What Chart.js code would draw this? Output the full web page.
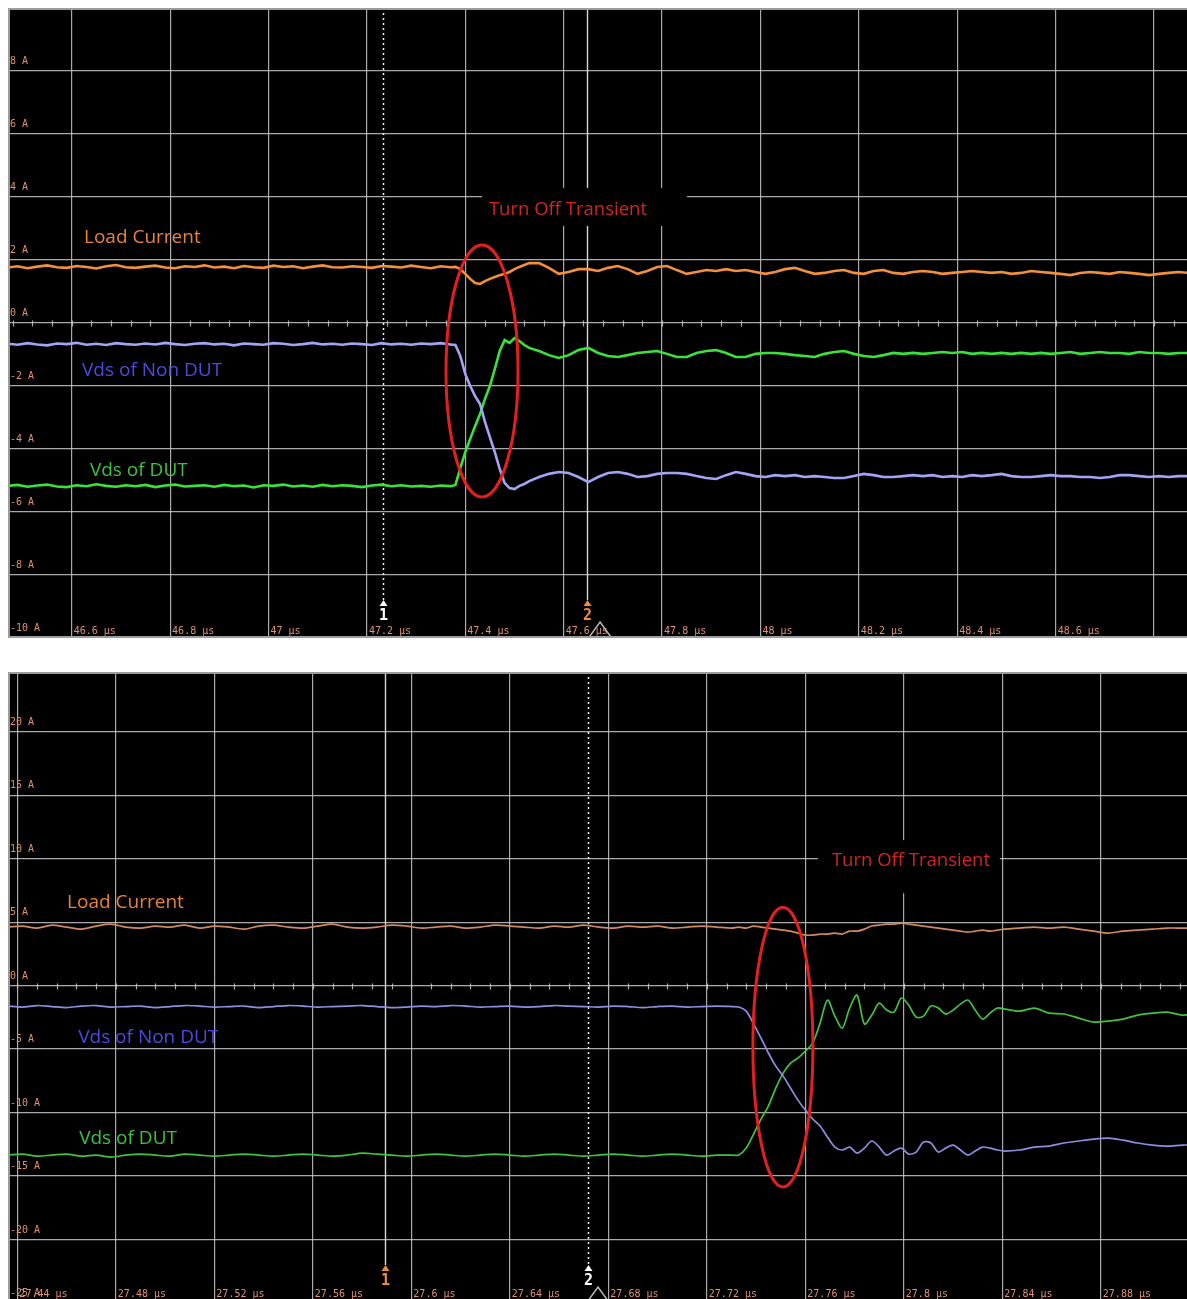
<!DOCTYPE html>
<html>
<head>
<meta charset="utf-8">
<title>Turn Off Transient</title>
<script src="https://cdn.jsdelivr.net/npm/chart.js@4.4.1/dist/chart.umd.min.js"></script>
<style>
    html, body { margin: 0; padding: 0; background: #fff; overflow: hidden; }
    .scope { position: absolute; left: 8px; width: 1179px; background: #000; }
    #topScope { top: 8px; height: 630px; }
    #bottomScope { top: 672px; height: 631px; }
</style>
</head>
<body>
<div class="scope" id="topScope"><canvas id="topChart" width="1179" height="630"></canvas></div>
<div class="scope" id="bottomScope"><canvas id="bottomChart" width="1179" height="631"></canvas></div>
<script>
// Two scope captures of the turn-off transient (time in us, values in A)

// ---- top capture ----
const topTime = [
    46.47, 46.49, 46.51, 46.53, 46.55, 46.57, 46.59, 46.61, 46.63, 46.65,
    46.67, 46.69, 46.71, 46.73, 46.75, 46.77, 46.79, 46.81, 46.83, 46.85,
    46.87, 46.89, 46.91, 46.93, 46.95, 46.97, 46.99, 47.01, 47.03, 47.05,
    47.07, 47.09, 47.11, 47.13, 47.15, 47.17, 47.19, 47.21, 47.23, 47.25,
    47.27, 47.29, 47.31, 47.33, 47.35, 47.37,
    47.38, 47.39, 47.40, 47.41, 47.42, 47.43, 47.44, 47.45, 47.46, 47.47,
    47.48, 47.49, 47.50, 47.51, 47.52, 47.53,
    47.55, 47.57, 47.59, 47.61, 47.63, 47.65, 47.67, 47.69, 47.71, 47.73,
    47.75, 47.77, 47.79, 47.81, 47.83, 47.85, 47.87, 47.89, 47.91, 47.93,
    47.95, 47.97, 47.99, 48.01, 48.03, 48.05, 48.07, 48.09, 48.11, 48.13,
    48.15, 48.17, 48.19, 48.21, 48.23, 48.25, 48.27, 48.29, 48.31, 48.33,
    48.35, 48.37, 48.39, 48.41, 48.43, 48.45, 48.47, 48.49, 48.51, 48.53,
    48.55, 48.57, 48.59, 48.61, 48.63, 48.65, 48.67, 48.69, 48.71, 48.73,
    48.75, 48.77, 48.79, 48.81, 48.83, 48.85, 48.87
];
const topLoadCurrent = [
    1.76, 1.80, 1.74, 1.79, 1.83, 1.77, 1.75, 1.81, 1.78, 1.73,
    1.80, 1.84, 1.77, 1.75, 1.79, 1.82, 1.76, 1.74, 1.80, 1.78,
    1.83, 1.76, 1.79, 1.74, 1.81, 1.77, 1.75, 1.82, 1.78, 1.80,
    1.74, 1.79, 1.83, 1.77, 1.76, 1.80, 1.78, 1.75, 1.81, 1.79,
    1.76, 1.82, 1.78, 1.74, 1.80, 1.77,
    1.78, 1.71, 1.56, 1.40, 1.27, 1.24, 1.33, 1.40, 1.46, 1.52,
    1.56, 1.62, 1.71, 1.78, 1.84, 1.90,
    1.90, 1.75, 1.56, 1.62, 1.71, 1.71, 1.65, 1.75, 1.81, 1.71,
    1.56, 1.65, 1.78, 1.81, 1.68, 1.56, 1.62, 1.68, 1.65, 1.71,
    1.65, 1.68, 1.62, 1.56, 1.62, 1.71, 1.75, 1.65, 1.56, 1.59,
    1.65, 1.68, 1.59, 1.56, 1.65, 1.68, 1.59, 1.56, 1.62, 1.65,
    1.62, 1.56, 1.59, 1.62, 1.65, 1.62, 1.59, 1.62, 1.56, 1.59,
    1.65, 1.62, 1.59, 1.56, 1.52, 1.59, 1.62, 1.59, 1.56, 1.62,
    1.59, 1.56, 1.52, 1.56, 1.59, 1.62, 1.59
];
const topVdsNonDut = [
    -0.66, -0.69, -0.64, -0.68, -0.71, -0.65, -0.67, -0.63, -0.69, -0.66,
    -0.70, -0.64, -0.67, -0.69, -0.65, -0.68, -0.63, -0.67, -0.70, -0.66,
    -0.64, -0.68, -0.66, -0.71, -0.65, -0.67, -0.69, -0.64, -0.66, -0.70,
    -0.67, -0.63, -0.68, -0.66, -0.69, -0.65, -0.67, -0.70, -0.64, -0.68,
    -0.66, -0.69, -0.65, -0.67, -0.64, -0.68,
    -0.70, -1.05, -1.62, -2.00, -2.32, -2.57, -3.14, -3.62, -4.10, -4.63,
    -5.08, -5.24, -5.27, -5.17, -5.11, -5.02,
    -4.89, -4.79, -4.73, -4.76, -4.89, -5.05, -4.89, -4.76, -4.73, -4.79,
    -4.89, -4.86, -4.79, -4.76, -4.76, -4.79, -4.86, -4.92, -4.95, -4.83,
    -4.73, -4.79, -4.86, -4.89, -4.83, -4.86, -4.83, -4.89, -4.86, -4.89,
    -4.92, -4.92, -4.86, -4.79, -4.83, -4.89, -4.89, -4.86, -4.83, -4.86,
    -4.83, -4.89, -4.86, -4.89, -4.83, -4.86, -4.83, -4.79, -4.86, -4.89,
    -4.89, -4.86, -4.83, -4.86, -4.86, -4.89, -4.89, -4.92, -4.89, -4.83,
    -4.83, -4.86, -4.89, -4.86, -4.89, -4.86, -4.86
];
const topVdsDut = [
    -5.17, -5.14, -5.20, -5.16, -5.13, -5.19, -5.21, -5.15, -5.18, -5.12,
    -5.17, -5.20, -5.15, -5.18, -5.14, -5.21, -5.16, -5.13, -5.19, -5.17,
    -5.15, -5.20, -5.14, -5.18, -5.16, -5.22, -5.15, -5.17, -5.13, -5.19,
    -5.16, -5.20, -5.14, -5.18, -5.15, -5.17, -5.21, -5.16, -5.13, -5.18,
    -5.15, -5.19, -5.17, -5.20, -5.16, -5.18,
    -5.14, -4.60, -4.10, -3.68, -3.27, -2.89, -2.41, -2.00, -1.46, -0.89,
    -0.54, -0.63, -0.48, -0.57, -0.70, -0.79,
    -0.89, -1.02, -1.11, -1.02, -0.86, -0.79, -0.95, -1.05, -1.08, -1.02,
    -0.95, -0.92, -0.89, -0.98, -1.08, -1.08, -0.95, -0.89, -0.86, -0.95,
    -1.08, -1.08, -0.98, -0.95, -0.95, -0.98, -1.02, -1.05, -1.08, -0.98,
    -0.92, -0.89, -0.98, -1.05, -1.08, -1.02, -0.95, -0.98, -0.95, -0.98,
    -0.95, -0.92, -0.95, -0.92, -0.98, -0.95, -0.98, -0.95, -0.98, -0.95,
    -0.98, -0.95, -0.98, -0.95, -0.92, -0.98, -0.95, -0.92, -0.95, -0.95,
    -0.98, -0.92, -0.95, -0.95, -0.98, -0.95, -0.95
];
const topXTicks = [46.6, 46.8, 47.0, 47.2, 47.4, 47.6, 47.8, 48.0, 48.2, 48.4, 48.6, 48.8];
const topXTickLabels = ['46.6 µs', '46.8 µs', '47 µs', '47.2 µs', '47.4 µs', '47.6 µs',
    '47.8 µs', '48 µs', '48.2 µs', '48.4 µs', '48.6 µs', ''];
const topYTicks = [8, 6, 4, 2, 0, -2, -4, -6, -8, -10];
const topYTickLabels = ['8 A', '6 A', '4 A', '2 A', '0 A', '-2 A', '-4 A', '-6 A', '-8 A', '-10 A'];

// ---- bottom capture ----
const bottomTime = [
    27.436, 27.442, 27.448, 27.454, 27.460, 27.466, 27.472, 27.478, 27.484, 27.490,
    27.496, 27.502, 27.508, 27.514, 27.520, 27.526, 27.532, 27.538, 27.544, 27.550,
    27.556, 27.562, 27.568, 27.574, 27.580, 27.586, 27.592, 27.598, 27.604, 27.610,
    27.616, 27.622, 27.628, 27.634, 27.640, 27.646, 27.652, 27.658, 27.664, 27.670,
    27.676, 27.682, 27.688, 27.694, 27.700, 27.706, 27.712, 27.718, 27.724, 27.730,
    27.733, 27.736, 27.739, 27.742, 27.745, 27.748, 27.751, 27.754, 27.757, 27.760,
    27.763, 27.766, 27.769, 27.772, 27.775, 27.778, 27.781, 27.784, 27.787, 27.790,
    27.793, 27.796, 27.799, 27.802, 27.805, 27.808, 27.811, 27.814, 27.817, 27.820,
    27.823, 27.826, 27.829, 27.832, 27.835, 27.838, 27.841,
    27.847, 27.853, 27.859, 27.865, 27.871, 27.877, 27.883, 27.889, 27.895, 27.901,
    27.907, 27.913, 27.919
];
const bottomLoadCurrent = [
    4.61, 4.69, 4.53, 4.76, 4.61, 4.45, 4.69, 4.84, 4.61, 4.53,
    4.69, 4.61, 4.76, 4.53, 4.69, 4.61, 4.45, 4.69, 4.76, 4.61,
    4.53, 4.69, 4.84, 4.61, 4.53, 4.61, 4.76, 4.69, 4.53, 4.61,
    4.69, 4.53, 4.61, 4.76, 4.69, 4.61, 4.53, 4.69, 4.61, 4.76,
    4.61, 4.53, 4.69, 4.61, 4.69, 4.53, 4.61, 4.69, 4.61, 4.53,
    4.61, 4.53, 4.69, 4.61, 4.53, 4.45, 4.37, 4.29, 4.13, 3.98,
    3.98, 4.06, 4.06, 4.13, 4.06, 4.29, 4.29, 4.45, 4.69, 4.76,
    4.84, 4.84, 4.92, 4.84, 4.76, 4.69, 4.61, 4.53, 4.45, 4.37,
    4.29, 4.21, 4.29, 4.37, 4.29, 4.37, 4.45,
    4.53, 4.61, 4.53, 4.61, 4.45, 4.29, 4.13, 4.29, 4.37, 4.45,
    4.53, 4.53, 4.53
];
const bottomVdsNonDut = [
    -1.61, -1.69, -1.57, -1.65, -1.73, -1.61, -1.57, -1.69, -1.65, -1.61,
    -1.73, -1.65, -1.57, -1.61, -1.69, -1.65, -1.61, -1.73, -1.65, -1.57,
    -1.61, -1.69, -1.65, -1.61, -1.57, -1.65, -1.73, -1.69, -1.61, -1.65,
    -1.57, -1.61, -1.69, -1.65, -1.61, -1.69, -1.65, -1.57, -1.61, -1.65,
    -1.69, -1.61, -1.65, -1.73, -1.65, -1.61, -1.69, -1.65, -1.61, -1.65,
    -1.69, -2.01, -3.03, -4.13, -5.31, -6.34, -7.13, -8.07, -9.02, -9.80,
    -10.51, -11.06, -11.93, -12.72, -12.95, -12.72, -13.19, -12.80, -12.24, -12.72,
    -13.35, -13.03, -12.80, -13.27, -13.11, -12.32, -12.40, -13.11, -12.80, -12.56,
    -12.95, -13.35, -13.03, -12.72, -12.80, -12.95, -13.03,
    -12.95, -12.72, -12.64, -12.40, -12.24, -12.09, -12.01, -12.17, -12.40, -12.56,
    -12.64, -12.56, -12.56
];
const bottomVdsDut = [
    -13.35, -13.27, -13.43, -13.35, -13.27, -13.43, -13.35, -13.51, -13.35, -13.27,
    -13.35, -13.43, -13.27, -13.35, -13.43, -13.35, -13.27, -13.35, -13.43, -13.35,
    -13.27, -13.35, -13.43, -13.35, -13.20, -13.27, -13.35, -13.43, -13.35, -13.27,
    -13.35, -13.43, -13.35, -13.27, -13.35, -13.43, -13.35, -13.27, -13.35, -13.43,
    -13.35, -13.27, -13.35, -13.43, -13.35, -13.27, -13.35, -13.43, -13.35, -13.35,
    -13.35, -12.80, -11.69, -10.51, -9.49, -8.07, -6.89, -6.10, -5.71, -5.16,
    -4.53, -2.95, -1.14, -2.40, -3.35, -1.77, -0.75, -3.03, -2.32, -1.38,
    -1.93, -2.09, -0.98, -1.54, -2.48, -2.40, -1.61, -1.77, -2.24, -1.93,
    -1.46, -1.14, -1.93, -2.64, -2.17, -1.77, -1.85,
    -2.01, -1.77, -2.17, -2.24, -2.56, -2.87, -2.80, -2.64, -2.32, -2.17,
    -2.09, -2.32, -2.24
];
const bottomXTicks = [27.44, 27.48, 27.52, 27.56, 27.60, 27.64, 27.68, 27.72, 27.76, 27.80, 27.84, 27.88];
const bottomXTickLabels = ['27.44 µs', '27.48 µs', '27.52 µs', '27.56 µs', '27.6 µs', '27.64 µs',
    '27.68 µs', '27.72 µs', '27.76 µs', '27.8 µs', '27.84 µs', '27.88 µs'];
const bottomYTicks = [20, 15, 10, 5, 0, -5, -10, -15, -20, -25];
const bottomYTickLabels = ['20 A', '15 A', '10 A', '5 A', '0 A', '-5 A', '-10 A', '-15 A', '-20 A', '-25 A'];

const seriesNames = ['Load Current', 'Vds of Non DUT', 'Vds of DUT'];

const GRID = 'rgba(200, 200, 200, 0.85)';
const TICK_TEXT = '#e3906c';
const SCOPE_FONT = '10px "DejaVu Sans Mono"';
const NOTE_FONT = '19px "Open Sans"';
const CALLOUT_FONT = '18.5px "Open Sans"';
const MARK_FONT = 'bold 15px "DejaVu Sans Mono"';

const panels = [
    {
        canvas: 'topChart',
        time: topTime,
        series: [topLoadCurrent, topVdsNonDut, topVdsDut],
        colors: ['#f2903e', '#a4a4f4', '#3ae23a'],
        lineWidth: 2.6,
        tension: 0,
        xRange: [46.4705, 48.867],
        yRange: [-10, 10],
        xTicks: topXTicks, xLabels: topXTickLabels,
        yTicks: topYTicks, yLabels: topYTickLabels,
        labelInset: 4,
        cursors: [
            { t: 47.233, n: '1', dotted: true, mark: '#ffffff' },
            { t: 47.647, n: '2', dotted: false, mark: '#f08a3c' }
        ],
        trigger: 47.674,
        notes: [
            { text: 'Load Current', t: 46.625, v: 2.70, color: '#e8823c' },
            { text: 'Vds of Non DUT', t: 46.621, v: -1.52, color: '#4b4be0' },
            { text: 'Vds of DUT', t: 46.637, v: -4.67, color: '#3cc23c' }
        ],
        callout: { text: 'Turn Off Transient', t: 47.448, v: 3.59, box: [47.434, 47.851, 4.29, 3.08] },
        ring: { t: 47.434, v: -1.52, dt: 0.0732, dv: 4.0 }
    },
    {
        canvas: 'bottomChart',
        time: bottomTime,
        series: [bottomLoadCurrent, bottomVdsNonDut, bottomVdsDut],
        colors: ['#d08a62', '#8e8ee0', '#42c242'],
        lineWidth: 1.7,
        tension: 0.3,
        xRange: [27.4362, 27.915],
        yRange: [-25, 24.7],
        xTicks: bottomXTicks, xLabels: bottomXTickLabels,
        yTicks: bottomYTicks, yLabels: bottomYTickLabels,
        labelInset: 6,
        cursors: [
            { t: 27.5891, n: '1', dotted: false, mark: '#f08a3c' },
            { t: 27.6718, n: '2', dotted: true, mark: '#ffffff' }
        ],
        trigger: 27.6758,
        notes: [
            { text: 'Load Current', t: 27.4602, v: 6.57, color: '#e8823c' },
            { text: 'Vds of Non DUT', t: 27.4647, v: -4.06, color: '#4b4be0' },
            { text: 'Vds of DUT', t: 27.4651, v: -12.09, color: '#3cc23c' }
        ],
        callout: { text: 'Turn Off Transient', t: 27.7708, v: 9.80, box: [27.7651, 27.8390, 11.46, 7.28] },
        ring: { t: 27.7509, v: -4.84, dt: 0.01218, dv: 11.02 }
    }
];

function scopeOverlay(p) {
    return {
        id: 'scopeOverlay',
        beforeDatasetsDraw(chart) {
            const { ctx, chartArea: a, scales: { x, y } } = chart;
            ctx.save();

            // minor ticks along the 0 A axis
            const minor = (p.xTicks[1] - p.xTicks[0]) / 5;
            const y0 = Math.round(y.getPixelForValue(0)) + 0.5;
            ctx.strokeStyle = GRID;
            ctx.lineWidth = 1.2;
            ctx.beginPath();
            for (let t = p.xTicks[0] - 5 * minor; t <= p.xRange[1]; t += minor) {
                const px = Math.round(x.getPixelForValue(t)) + 0.5;
                ctx.moveTo(px, y0 - 3);
                ctx.lineTo(px, y0 + 3);
            }
            ctx.stroke();

            // cursors
            p.cursors.forEach(c => {
                const px = Math.round(x.getPixelForValue(c.t)) + 0.5;
                ctx.strokeStyle = c.dotted ? '#f4f4f4' : '#d6d6d6';
                ctx.lineWidth = c.dotted ? 1.5 : 1.4;
                ctx.setLineDash(c.dotted ? [2, 3] : []);
                ctx.beginPath();
                ctx.moveTo(px, a.top);
                ctx.lineTo(px, a.bottom - 38);
                ctx.stroke();
            });
            ctx.setLineDash([]);

            // callout box hides the grid behind the text
            const c = p.callout;
            const bx0 = x.getPixelForValue(c.box[0]), bx1 = x.getPixelForValue(c.box[1]);
            const by0 = y.getPixelForValue(c.box[2]), by1 = y.getPixelForValue(c.box[3]);
            ctx.fillStyle = '#000';
            ctx.fillRect(bx0, by0, bx1 - bx0, by1 - by0);
            ctx.fillStyle = '#d52222';
            ctx.font = CALLOUT_FONT;
            ctx.textAlign = 'left';
            ctx.textBaseline = 'middle';
            ctx.fillText(c.text, x.getPixelForValue(c.t), y.getPixelForValue(c.v));

            // tick labels inside the screen
            ctx.fillStyle = TICK_TEXT;
            ctx.font = SCOPE_FONT;
            ctx.textBaseline = 'alphabetic';
            x.ticks.forEach((tk, i) => {
                const lbl = p.xLabels[i];
                if (lbl) ctx.fillText(lbl, x.getPixelForValue(tk.value) + 2, a.bottom - p.labelInset);
            });
            y.ticks.forEach((tk, i) => {
                ctx.fillText(p.yLabels[i], a.left + 2, y.getPixelForValue(tk.value) - 7);
            });
            ctx.restore();
        },
        afterDatasetsDraw(chart) {
            const { ctx, chartArea: a, scales: { x, y } } = chart;
            ctx.save();

            // red ring round the transient
            const r = p.ring;
            const cx = x.getPixelForValue(r.t), cy = y.getPixelForValue(r.v);
            const rx = x.getPixelForValue(r.t + r.dt) - cx;
            const ry = cy - y.getPixelForValue(r.v + r.dv);
            ctx.strokeStyle = '#e3201f';
            ctx.lineWidth = 3;
            ctx.beginPath();
            ctx.ellipse(cx, cy, rx, ry, 0, 0, Math.PI * 2);
            ctx.stroke();

            // trace names
            ctx.font = NOTE_FONT;
            ctx.textAlign = 'left';
            ctx.textBaseline = 'middle';
            p.notes.forEach(n => {
                ctx.fillStyle = n.color;
                ctx.fillText(n.text, x.getPixelForValue(n.t), y.getPixelForValue(n.v));
            });

            // cursor markers
            ctx.textAlign = 'center';
            ctx.textBaseline = 'alphabetic';
            ctx.font = MARK_FONT;
            p.cursors.forEach(c => {
                const px = Math.round(x.getPixelForValue(c.t)) + 0.5;
                ctx.fillStyle = c.mark;
                ctx.beginPath();
                ctx.moveTo(px, a.bottom - 38);
                ctx.lineTo(px - 4, a.bottom - 32);
                ctx.lineTo(px + 4, a.bottom - 32);
                ctx.closePath();
                ctx.fill();
                ctx.fillText(c.n, px, a.bottom - 18);
            });

            // trigger mark
            const tx = x.getPixelForValue(p.trigger);
            ctx.strokeStyle = '#b8b8b8';
            ctx.lineWidth = 1.5;
            ctx.beginPath();
            ctx.moveTo(tx - 13, a.bottom + 2);
            ctx.lineTo(tx, a.bottom - 16);
            ctx.lineTo(tx + 13, a.bottom + 2);
            ctx.stroke();

            // screen frame
            ctx.strokeStyle = '#9c9c9c';
            ctx.lineWidth = 2;
            ctx.beginPath();
            ctx.moveTo(a.right, a.top + 1);
            ctx.lineTo(a.left + 1, a.top + 1);
            ctx.lineTo(a.left + 1, a.bottom - 1);
            ctx.lineTo(a.right, a.bottom - 1);
            ctx.stroke();
            ctx.restore();
        }
    };
}

function buildScope(p) {
    const ctx = document.getElementById(p.canvas).getContext('2d');
    const datasets = p.series.map((vals, k) => ({
        label: seriesNames[k],
        data: p.time.map((t, i) => ({ x: t, y: vals[i] })),
        borderColor: p.colors[k],
        borderWidth: p.lineWidth,
        tension: p.tension,
        pointRadius: 0,
        fill: false
    }));

    return new Chart(ctx, {
        type: 'line',
        data: { datasets: datasets },
        options: {
            responsive: false,
            animation: false,
            events: [],
            layout: { padding: 0, autoPadding: false },
            plugins: { legend: { display: false }, tooltip: { enabled: false } },
            scales: {
                x: {
                    type: 'linear',
                    min: p.xRange[0],
                    max: p.xRange[1],
                    afterBuildTicks: s => { s.ticks = p.xTicks.map(v => ({ value: v })); },
                    ticks: { display: false },
                    grid: { color: GRID, lineWidth: 1.2, drawTicks: false },
                    border: { display: false }
                },
                y: {
                    type: 'linear',
                    min: p.yRange[0],
                    max: p.yRange[1],
                    afterBuildTicks: s => { s.ticks = p.yTicks.map(v => ({ value: v })); },
                    ticks: { display: false },
                    grid: { color: GRID, lineWidth: 1.2, drawTicks: false },
                    border: { display: false }
                }
            }
        },
        plugins: [scopeOverlay(p)]
    });
}

document.addEventListener('DOMContentLoaded', function () {
    panels.forEach(buildScope);
});
</script>
</body>
</html>
